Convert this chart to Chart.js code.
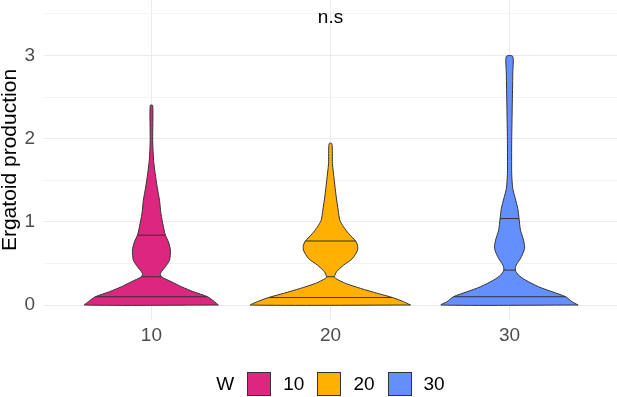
<!DOCTYPE html>
<html>
<head>
<meta charset="utf-8">
<script src="https://cdn.jsdelivr.net/npm/chart.js@4"></script>
<style>
  html, body { margin: 0; padding: 0; background: #fff; }
  #wrap { position: relative; width: 617px; height: 397px; }
  #legend {
    position: absolute; left: 44px; width: 573px; top: 372px; height: 24px;
    display: flex; justify-content: center; align-items: center;
    font-family: "Liberation Sans", Arial, sans-serif; font-size: 19px; color: #000;
  }
  #legend .box { width: 22px; height: 22px; border: 1px solid #333; margin-left: 13px; }
  #legend .txt { margin-left: 12px; }
</style>
</head>
<body>
<div id="wrap">
  <canvas id="chart" width="617" height="397"></canvas>
  <div id="legend"></div>
</div>
<script>
// Grupos e cores
const groups = ['10', '20', '30'];
const groupX = [1, 2, 3];
const colors = ['#DC267F', '#FFB000', '#648FFF'];
const legendTitle = 'W';

// Contorno dos violinos: níveis (eixo y) e meia-largura (unidades do eixo x)
const levels10 = [0, 0.04, 0.10, 0.16, 0.22, 0.28, 0.34, 0.38, 0.46, 0.54, 0.66, 0.76, 0.84, 0.94, 1.10, 1.26, 1.42, 1.58, 1.74, 1.98, 2.40];
const widths10 = [0.374, 0.352, 0.313, 0.235, 0.168, 0.112, 0.056, 0.050, 0.078, 0.101, 0.106, 0.095, 0.078, 0.067, 0.053, 0.045, 0.032, 0.021, 0.012, 0.007, 0.007];

const levels20 = [0, 0.04, 0.09, 0.14, 0.20, 0.26, 0.32, 0.34, 0.40, 0.48, 0.56, 0.66, 0.72, 0.77, 0.86, 0.94, 1.02, 1.14, 1.30, 1.50, 1.70, 1.94];
const widths20 = [0.447, 0.408, 0.346, 0.263, 0.168, 0.084, 0.028, 0.022, 0.034, 0.073, 0.123, 0.151, 0.151, 0.140, 0.101, 0.073, 0.052, 0.043, 0.032, 0.021, 0.011, 0.008];

const levels30 = [0, 0.04, 0.10, 0.16, 0.22, 0.30, 0.36, 0.42, 0.48, 0.56, 0.68, 0.78, 0.90, 1.04, 1.16, 1.28, 1.40, 1.58, 1.98, 2.39, 2.79, 2.99];
const widths30 = [0.383, 0.349, 0.313, 0.237, 0.162, 0.089, 0.050, 0.032, 0.037, 0.061, 0.084, 0.078, 0.061, 0.053, 0.046, 0.032, 0.018, 0.012, 0.012, 0.015, 0.018, 0.018];

// Quantis desenhados (0.25, 0.5, 0.75)
const quantiles10 = [0.10, 0.34, 0.84];
const quantiles20 = [0.09, 0.34, 0.77];
const quantiles30 = [0.10, 0.42, 1.04];

// Ticks
const xTicks = [1, 2, 3];
const yTicks = [0, 0.5, 1, 1.5, 2, 2.5, 3, 3.5];

// Anotação
const annotationText = 'n.s';
const annotationX = 2;
const annotationY = 3.39;

const FONT = '"Liberation Sans", Arial, sans-serif';

const violins = [
  { levels: levels10, widths: widths10, quantiles: quantiles10 },
  { levels: levels20, widths: widths20, quantiles: quantiles20 },
  { levels: levels30, widths: widths30, quantiles: quantiles30 },
];

// Monta o polígono fechado do violino
function outline(center, lv, w) {
  const right = lv.map((y, i) => ({ x: center + w[i], y }));
  const left = lv.map((y, i) => ({ x: center - w[i], y })).reverse();
  return [...right, ...left, right[0]];
}

const datasets = [];
violins.forEach((v, g) => {
  const c = groupX[g];
  datasets.push({
    label: groups[g],
    data: outline(c, v.levels, v.widths),
    showLine: true,
    fill: 'shape',
    backgroundColor: colors[g],
    borderColor: '#333333',
    borderWidth: 1,
    pointRadius: 0,
    tension: 0.25,
    order: 1,
  });
  v.quantiles.forEach(q => {
    const w = v.widths[v.levels.indexOf(q)];
    datasets.push({
      label: 'q',
      data: [{ x: c - w, y: q }, { x: c + w, y: q }],
      showLine: true,
      fill: false,
      borderColor: '#333333',
      borderWidth: 1,
      pointRadius: 0,
      order: 0,
    });
  });
});

// Texto "n.s" no painel
const nsPlugin = {
  id: 'nsLabel',
  afterDatasetsDraw(chart) {
    const { ctx, scales: { x, y } } = chart;
    ctx.save();
    ctx.font = '19px ' + FONT;
    ctx.fillStyle = '#000';
    ctx.textAlign = 'center';
    ctx.textBaseline = 'alphabetic';
    ctx.fillText(annotationText, x.getPixelForValue(annotationX), y.getPixelForValue(annotationY));
    ctx.restore();
  }
};

new Chart(document.getElementById('chart').getContext('2d'), {
  type: 'scatter',
  data: { datasets },
  options: {
    responsive: false,
    animation: false,
    layout: { padding: { left: 0, right: 0, top: 0, bottom: 37 } },
    plugins: { legend: { display: false }, tooltip: { enabled: false } },
    scales: {
      x: {
        type: 'linear', min: 0.4, max: 3.6,
        afterBuildTicks: s => { s.ticks = xTicks.map(v => ({ value: v })); },
        afterFit: s => { s.height = 40; s.paddingLeft = 0; s.paddingRight = 0; },
        ticks: {
          callback: v => groups[groupX.indexOf(v)],
          color: '#4d4d4d', font: { family: FONT, size: 19 },
          padding: 4, maxRotation: 0, autoSkip: false,
        },
        grid: { color: '#ebebeb', drawTicks: false },
        border: { display: false },
      },
      y: {
        type: 'linear', min: -0.18, max: 3.668,
        afterBuildTicks: s => { s.ticks = yTicks.map(v => ({ value: v })); },
        afterFit: s => { s.width = 44; s.paddingTop = 0; s.paddingBottom = 0; },
        ticks: {
          callback: v => Number.isInteger(v) ? String(v) : '',
          color: '#4d4d4d', font: { family: FONT, size: 19 },
          padding: 9, autoSkip: false,
        },
        grid: {
          color: ctx => Number.isInteger(ctx.tick.value) ? '#ebebeb' : '#f3f3f3',
          drawTicks: false,
        },
        border: { display: false },
        title: {
          display: true, text: 'Ergatoid production', color: '#000',
          font: { family: FONT, size: 21, lineHeight: 1 },
          padding: { top: 0, bottom: 0 },
        },
      },
    },
  },
  plugins: [nsPlugin],
});

// Legenda
const legend = document.getElementById('legend');
let html = `<span>${legendTitle}</span>`;
groups.forEach((g, i) => {
  html += `<span class="box" style="background:${colors[i]}"></span><span class="txt">${g}</span>`;
});
legend.innerHTML = html;
</script>
</body>
</html>
